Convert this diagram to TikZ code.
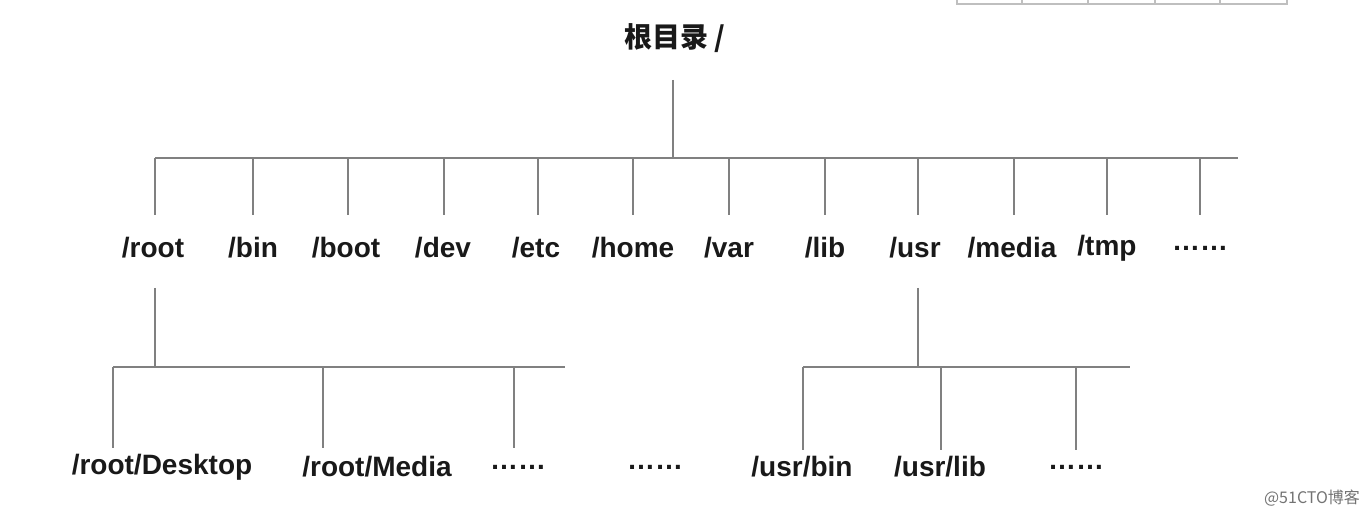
\documentclass[tikz,border=0pt]{standalone}
\usepackage{fontspec}
\setmainfont{Liberation Sans}
\newfontfamily\cjk{Noto Sans CJK SC}
\begin{document}
\begin{tikzpicture}[x=0.5pt,y=-0.5pt,
  ln/.style={draw=black!50,line width=1.2pt},
  lbl/.style={font=\fontsize{14}{16}\selectfont\bfseries,inner sep=0pt,text=black!90},
  tbl/.style={draw=black!25,line width=0.6pt}]
\useasboundingbox (0,0) rectangle (1371,517);
% cropped table fragment
\draw[tbl] (957,0) -- (957,4) -- (1287,4) -- (1287,0);
\foreach \x in {1022,1088,1155,1220} \draw[tbl] (\x,0) -- (\x,4);
% root
\node[lbl,font=\fontsize{14}{16}\selectfont\bfseries\cjk] (rt) at (675,38) {根目录 /};
\coordinate (rtb) at (673,80);
\coordinate (bus) at (673,158);
\draw[ln] (rtb) -- (bus);
\coordinate (busL) at (155,158);
\coordinate (busR) at (1238,158);
\draw[ln] (busL) -- (busR);
\foreach \x/\t/\n in {153/{/root}/root,253/{/bin}/bin,346/{/boot}/boot,443/{/dev}/dev,536/{/etc}/etc,633/{/home}/home,729/{/var}/var,825/{/lib}/lib,915/{/usr}/usr,1012/{/media}/media,1107/{/tmp}/tmp,1200/{……}/dots}
  \node[lbl] (\n) at (\x,248) {\t};
\foreach \x in {155,253,348,444,538,633,729,825,918,1014,1107,1200}
  \draw[ln] (\x,158) -- (\x,215);
% root subtree
\coordinate (rootb) at (155,367);
\draw[ln] (155,288) -- (rootb);
\draw[ln] (113,367) -- (565,367);
\foreach \x in {113,323,514} \draw[ln] (\x,367) -- (\x,448);
\node[lbl] (rd) at (162,467) {/root/Desktop};
\node[lbl] (rm) at (377,467) {/root/Media};
\node[lbl] (rx) at (518,467) {……};
\node[lbl] (mx) at (655,467) {……};
% usr subtree
\draw[ln] (918,288) -- (918,367);
\draw[ln] (803,367) -- (1130,367);
\foreach \x in {803,941,1076} \draw[ln] (\x,367) -- (\x,450);
\node[lbl] (ub) at (802,467) {/usr/bin};
\node[lbl] (ul) at (940,467) {/usr/lib};
\node[lbl] (ux) at (1076,467) {……};
% watermark
\node[font=\fontsize{8}{9}\selectfont\cjk,text=black!55,inner sep=0pt] (wm) at (1312,498) {@51CTO博客};
\end{tikzpicture}
\end{document}
